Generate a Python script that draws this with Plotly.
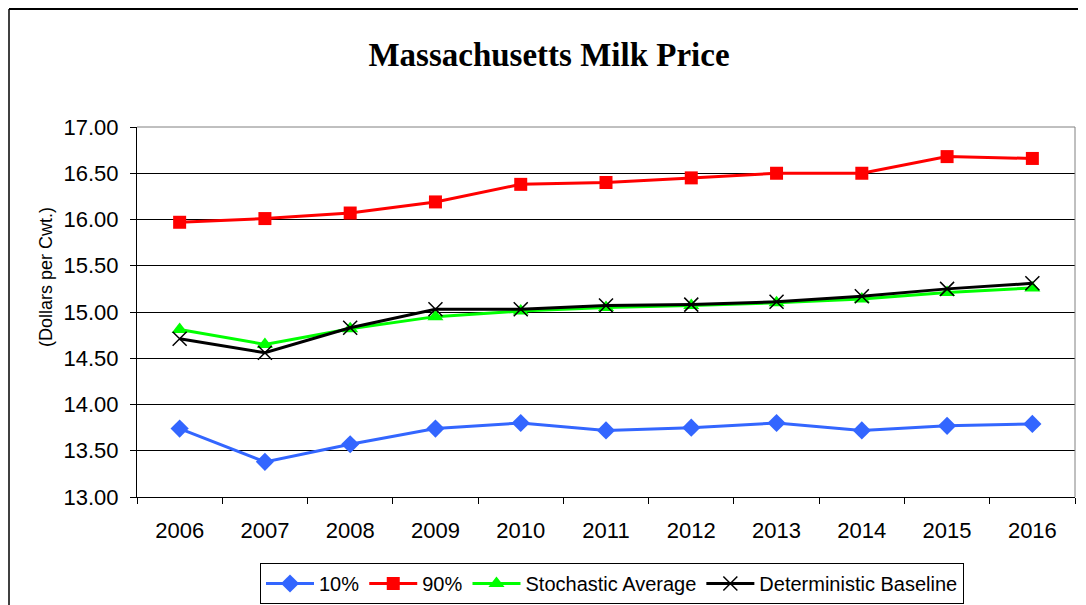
import plotly.graph_objects as go

years = ["2006", "2007", "2008", "2009", "2010", "2011", "2012", "2013", "2014", "2015", "2016"]
p10 = [13.74, 13.38, 13.57, 13.74, 13.80, 13.72, 13.75, 13.80, 13.72, 13.77, 13.79]
p90 = [15.97, 16.01, 16.07, 16.19, 16.38, 16.40, 16.45, 16.50, 16.50, 16.68, 16.66]
stoch_avg = [14.81, 14.65, 14.82, 14.95, 15.01, 15.05, 15.07, 15.10, 15.14, 15.21, 15.26]
det_base = [14.71, 14.56, 14.83, 15.03, 15.03, 15.07, 15.08, 15.11, 15.17, 15.25, 15.31]
y_ticks = [13.0, 13.5, 14.0, 14.5, 15.0, 15.5, 16.0, 16.5, 17.0]
y_tick_labels = ["13.00", "13.50", "14.00", "14.50", "15.00", "15.50", "16.00", "16.50", "17.00"]

# page has an 8px body margin; work in page pixels and shift
OFF = 8
W, H = 1086 - OFF, 605 - OFF
L, R, T, B = 137 - OFF, 1075 - OFF, 127 - OFF, 497 - OFF

fig = go.Figure()
fig.add_trace(go.Scatter(x=years, y=p10, name="10%", mode="lines+markers",
                         line=dict(color="#3366FF", width=3),
                         marker=dict(symbol="diamond", size=14, color="#3366FF")))
fig.add_trace(go.Scatter(x=years, y=p90, name="90%", mode="lines+markers",
                         line=dict(color="#FF0000", width=3),
                         marker=dict(symbol="square", size=13, color="#FF0000")))
fig.add_trace(go.Scatter(x=years, y=stoch_avg, name="Stochastic Average", mode="lines+markers",
                         line=dict(color="#00FF00", width=3),
                         marker=dict(symbol="triangle-up", size=14, color="#00FF00")))
fig.add_trace(go.Scatter(x=years, y=det_base, name="Deterministic Baseline", mode="lines+markers",
                         line=dict(color="#000000", width=3),
                         marker=dict(symbol="x-thin", size=14, color="#000000",
                                     line=dict(color="#000000", width=1.5))))

def px_x(page_px):
    return (page_px - OFF - L) / (R - L)

def px_y(page_px):
    return (B - (page_px - OFF)) / (B - T)

shapes = [
    dict(type="line", xref="paper", yref="paper", x0=0, x1=1, y0=1, y1=1,
         line=dict(color="#808080", width=1)),
    dict(type="line", xref="paper", yref="paper", x0=1, x1=1, y0=0, y1=1,
         line=dict(color="#808080", width=1)),
    # outer chart border
    dict(type="line", xref="paper", yref="paper", x0=px_x(9), x1=px_x(1095), y0=px_y(9), y1=px_y(9),
         line=dict(color="#000000", width=2)),
    dict(type="line", xref="paper", yref="paper", x0=px_x(9), x1=px_x(9), y0=px_y(9), y1=px_y(620),
         line=dict(color="#000000", width=1.5)),
]

fig.update_layout(
    width=W, height=H,
    margin=dict(l=L, r=W - R, t=T, b=H - B, autoexpand=False),
    paper_bgcolor="white", plot_bgcolor="white",
    title=dict(text="<b>Massachusetts Milk Price</b>", x=(549 - OFF) / W, xref="container",
               xanchor="center", y=1 - (54 - OFF) / H, yref="container", yanchor="middle",
               font=dict(family="Liberation Serif", size=33, color="black")),
    font=dict(family="Liberation Sans", color="black"),
    showlegend=True,
    legend=dict(orientation="h", x=px_x(612), xanchor="center", y=px_y(563), yanchor="top",
                bordercolor="black", borderwidth=1, font=dict(size=20, family="Liberation Sans"),
                itemwidth=48, tracegroupgap=0),
    shapes=shapes,
    annotations=[dict(text="(Dollars per Cwt.)", textangle=-90, xref="paper", yref="paper",
                      x=px_x(46), y=px_y(277), xanchor="center", yanchor="middle", showarrow=False,
                      font=dict(size=18, family="Liberation Sans", color="black"))],
)

fig.update_xaxes(type="category", categoryorder="array", categoryarray=years,
                 showline=True, linecolor="black", linewidth=1,
                 ticks="outside", tickson="boundaries", ticklen=6, tickcolor="black",
                 showgrid=False, tickfont=dict(size=22, family="Liberation Sans"),
                 ticklabelstandoff=14, range=[-0.5, 10.5], automargin=False)
fig.update_yaxes(range=[13, 17], tickvals=y_ticks, ticktext=y_tick_labels,
                 showline=True, linecolor="black", linewidth=1,
                 ticks="outside", ticklen=6, tickcolor="black",
                 showgrid=True, gridcolor="#000000", gridwidth=1,
                 tickfont=dict(size=22, family="Liberation Sans"),
                 ticklabelstandoff=7, zeroline=False, automargin=False)

fig.write_html("out.html")
